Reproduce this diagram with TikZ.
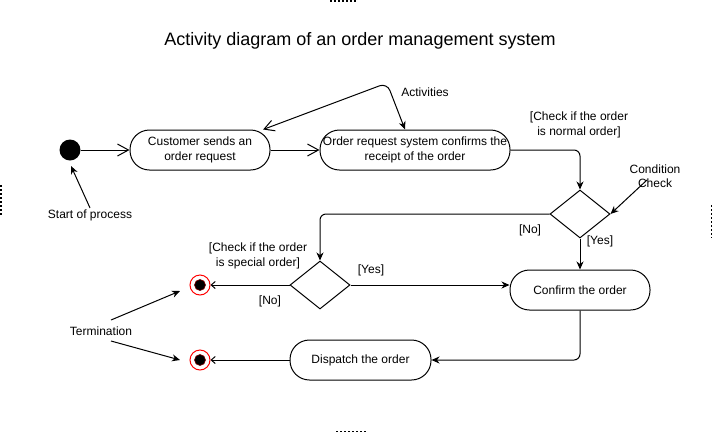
\documentclass[tikz,border=0pt]{standalone}
\usepackage{fontspec}
\setmainfont{Liberation Sans}
\usetikzlibrary{shapes,arrows,positioning,calc,arrows.meta}

\begin{document}
\begin{tikzpicture}[x=1pt, y=-1pt, line width=1pt, font=\fontsize{12}{14.5}\selectfont,
    activity/.style={draw, rounded corners=19.5pt, minimum width=140pt, minimum height=40pt, inner sep=1pt, align=center},
    decision/.style={draw, diamond, minimum width=60pt, minimum height=48pt, inner sep=0pt},
    startnode/.style={circle, fill=black, minimum size=21pt, inner sep=0pt},
    endnode/.style={circle, draw=red, fill=white, minimum size=20pt, inner sep=0pt,
        path picture={\fill[black, draw=red!50!black, line width=0.6pt] (path picture bounding box.center) circle (5.5pt);}},
    lbl/.style={align=center, inner sep=1pt},
    flow/.style={-{Stealth[length=8pt,width=7pt,inset=2.5pt]}},
    openflow/.style={-{Straight Barb[length=11pt,width=12pt]}},
    smallflow/.style={-{Straight Barb[length=4pt,width=7pt]}},
    actflow/.style={{Straight Barb[length=10pt,width=11pt]}-{Stealth[length=8pt,width=7pt,inset=2.5pt]}},
    pagemark/.style={line width=1.5pt, dash pattern=on 2pt off 2pt}]
    \useasboundingbox (0,0) rectangle (712,432);

    % Page marks
    \draw[pagemark] (330,0.75) -- (357,0.75);
    \draw[pagemark] (0.75,185) -- (0.75,216);
    \draw[pagemark] (711.25,205) -- (711.25,238);
    \draw[pagemark] (336,431.25) -- (367,431.25);

    % Title
    \node[lbl, font=\fontsize{18}{22}\selectfont] (title) at (360,41) {Activity diagram of an order management system};

    % Nodes
    \node[startnode] (start) at (70,150) {};
    \node[activity] (cust) at (200,150) {Customer sends an\\order request};
    \node[activity, minimum width=190pt] (receipt) at (415,150) {Order request system confirms the\\receipt of the order};
    \node[decision] (normal) at (580,214) {};
    \node[activity] (confirm) at (580,290) {Confirm the order};
    \node[decision] (special) at (320,285) {};
    \node[activity, minimum width=141pt] (dispatch) at (360.5,360) {Dispatch the order};
    \node[endnode] (end1) at (200,285) {};
    \node[endnode] (end2) at (200,360) {};

    % Labels
    \node[lbl] (startlbl) at (90,215) {Start of process};
    \node[lbl] (actlbl) at (425,92) {Activities};
    \node[lbl] (normallbl) at (579,125) {[Check if the order\\is normal order]};
    \node[lbl] (condlbl) at (655,176) {Condition\\Check};
    \node[lbl] (nolbl1) at (530,230) {[No]};
    \node[lbl] (yeslbl1) at (600,241) {[Yes]};
    \node[lbl] (speciallbl) at (258,256) {[Check if the order\\is special order]};
    \node[lbl] (yeslbl2) at (371,270) {[Yes]};
    \node[lbl] (nolbl2) at (270,301) {[No]};
    \node[lbl] (termlbl) at (101,331) {Termination};

    \coordinate (actbend) at (387,83);
    \coordinate (starttip) at (71,166);
    \coordinate (condfoot) at (647,180);
    \coordinate (termfoot1) at (111,320);
    \coordinate (termtip1) at (180,291);
    \coordinate (termfoot2) at (111,341);
    \coordinate (termtip2) at (180,360);

    % Flow
    \draw[openflow] (start) -- (cust);
    \draw[openflow] (cust) -- (receipt);
    \draw[flow, rounded corners=6pt] (receipt.east) -| (normal.north);
    \draw[flow, rounded corners=6pt] (normal.west) -| (special.north);
    \draw[flow] (normal.south) -- (confirm.north);
    \draw[flow] (special.east) -- (special.east -| confirm.west);
    \draw[smallflow] (special.west) -- (end1);
    \draw[flow, rounded corners=6pt] (confirm.south) |- (dispatch.east);
    \draw[smallflow] (dispatch.west) -- (end2);

    % Notes
    \draw[actflow, rounded corners=8pt] (cust.18) -- (actbend) -- (receipt.116);
    \draw[flow] (condfoot) -- (normal.east);
    \draw[flow] (startlbl.north) -- (starttip);
    \draw[flow] (termfoot1) -- (termtip1);
    \draw[flow] (termfoot2) -- (termtip2);
\end{tikzpicture}
\end{document}
